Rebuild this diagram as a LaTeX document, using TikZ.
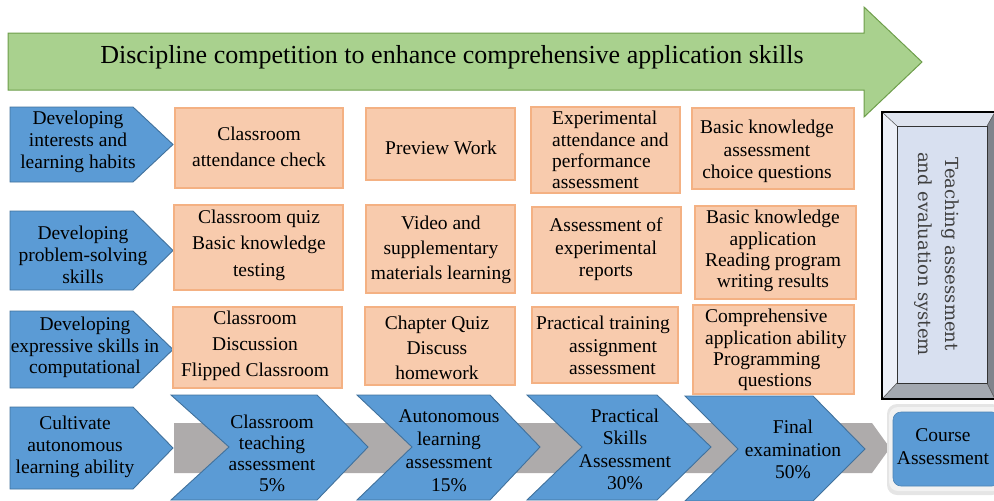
\documentclass[tikz,border=0pt]{standalone}
\usepackage{fontspec}
\setmainfont{Liberation Serif}
\newfontfamily\slabfont{DejaVu Serif}
\definecolor{bluefill}{HTML}{5B9BD5}
\definecolor{blueline}{HTML}{41719C}
\definecolor{orfill}{HTML}{F8CBAD}
\definecolor{orline}{HTML}{F4B183}
\definecolor{grfill}{HTML}{A9D18E}
\definecolor{grline}{HTML}{6E9E4B}
\definecolor{bandgray}{HTML}{AEABAB}
\definecolor{bvface}{HTML}{D8E0F0}
\definecolor{bvleft}{HTML}{EDF0F8}
\definecolor{bvtop}{HTML}{DEE3EE}
\definecolor{bvright}{HTML}{80848C}
\definecolor{bvbottom}{HTML}{A3A8B0}
\definecolor{vtext}{HTML}{404040}
\tikzset{
  bluebox/.style={fill=bluefill,draw=blueline,line width=0.9pt,line join=miter},
  orbox/.style={fill=orfill,draw=orline,line width=1.2pt},
  lbl/.style={inner sep=0pt,align=center,text=black},
  txt/.style={font=\fontsize{19.5}{#1}\selectfont},
  txt/.default=22
}
\begin{document}
\begin{tikzpicture}[x=1pt,y=-1pt]
\useasboundingbox (0,0) rectangle (994,501);

% top green block arrow
\draw[fill=grfill,draw=grline,line width=1pt,line join=miter]
  (8,33) -- (864,33) -- (864,7) -- (922,62) -- (864,117) -- (864,90) -- (8,90) -- cycle;
\node[lbl,font=\fontsize{26}{30}\selectfont] (title) at (452,57)
  {Discipline competition to enhance comprehensive application skills};

% left pentagon arrows
\draw[bluebox] (10,107) -- (133,107) -- (173,144.5) -- (133,182) -- (10,182) -- cycle;
\draw[bluebox] (10,211) -- (133,211) -- (173,250.5) -- (133,290) -- (10,290) -- cycle;
\draw[bluebox] (10,311) -- (133,311) -- (173,349.5) -- (133,388) -- (10,388) -- cycle;
\draw[bluebox] (10,407) -- (133,407) -- (173,448) -- (133,489) -- (10,489) -- cycle;
\node[lbl,txt=22] (g1) at (78,142) {Developing\\interests and\\learning habits};
\node[lbl,txt=22] (g2) at (83,255) {Developing\\problem-solving\\skills};
\node[lbl,txt=21.5] (g3) at (85,347.5) {Developing\\expressive skills in\\computational};
\node[lbl,txt=22] (g4) at (75,447) {Cultivate\\autonomous\\learning ability};

% orange boxes, row 1
\draw[orbox] (175,108) rectangle (343,188);
\draw[orbox] (366,108) rectangle (515,180);
\draw[orbox] (531,107) rectangle (680,193);
\draw[orbox] (692,108) rectangle (854,189);
\node[lbl,txt=26] (a11) at (259,147) {Classroom\\attendance check};
\node[lbl,txt=22] (a12) at (441,148) {Preview Work};
\node[lbl,txt=21.3,align=left,anchor=west] (a13) at (552,150) {Experimental\\attendance and\\performance\\assessment};
\node[lbl,txt=22.5] (a14) at (767,151.5) {Basic knowledge\\assessment\\choice questions};

% orange boxes, row 2
\draw[orbox] (174,205) rectangle (343,290);
\draw[orbox] (366,205) rectangle (515,293);
\draw[orbox] (532,207) rectangle (681,293);
\draw[orbox] (695,206) rectangle (856,299);
\node[lbl,txt=26.5] (a21) at (259,245) {Classroom quiz\\Basic knowledge\\testing};
\node[lbl,txt=25] (a22) at (441,250) {Video and\\supplementary\\materials learning};
\node[lbl,txt=22.5] (a23) at (606,249.5) {Assessment of\\experimental\\reports};
\node[lbl,txt=21.3] (a24) at (773,251) {Basic knowledge\\application\\Reading program\\writing results};

% orange boxes, row 3
\draw[orbox] (173,307) rectangle (342,388);
\draw[orbox] (365,307) rectangle (515,385);
\draw[orbox] (532,307) rectangle (678,383);
\draw[orbox] (693,305) rectangle (854,394);
\node[lbl,txt=26] (a31) at (255,346) {Classroom\\Discussion\\Flipped Classroom};
\node[lbl,txt=25] (a32) at (437,348) {Chapter Quiz\\Discuss\\homework};
\node[lbl,txt=22.5,align=left,anchor=west] (a33) at (536,345.5)
  {Practical training\\\hspace*{33pt}assignment\\\hspace*{33pt}assessment};
\node[lbl,txt=21.3,align=left,anchor=west] (a34) at (705,350)
  {Comprehensive\\application ability\\\hspace*{8pt}Programming\\\hspace*{33pt}questions};

% grey band behind the chevrons
\fill[bandgray] (174,423) -- (872,423) -- (890,448) -- (872,473) -- (174,473) -- cycle;

% chevrons
\draw[bluebox] (171,395) -- (317,395) -- (368,447) -- (317,500) -- (171,500) -- (229,447) -- cycle;
\draw[bluebox] (357,395) -- (490,395) -- (540,447) -- (490,500) -- (357,500) -- (412,447) -- cycle;
\draw[bluebox] (527,395) -- (657,395) -- (711,447) -- (657,500) -- (527,500) -- (582,447) -- cycle;
\draw[bluebox] (685,396) -- (813,396) -- (865,449) -- (813,501) -- (685,501) -- (738,449) -- cycle;
\node[lbl,txt=21] (c1) at (272,453) {Classroom\\teaching\\assessment\\5\%};
\node[lbl,txt=23] (c2) at (449,451) {Autonomous\\learning\\assessment\\15\%};
\node[lbl,txt=22.3] (c3) at (625,449.5) {Practical\\Skills\\Assessment\\30\%};
\node[lbl,txt=22.5] (c4) at (793,449.5) {Final\\examination\\50\%};

% course assessment box with soft halo
\fill[black!10,rounded corners=10pt] (887,404) rectangle (1002,495);
\fill[black!5,rounded corners=9pt] (889,407) rectangle (1002,491);
\draw[fill=bluefill,draw=bluefill!85!black,line width=0.6pt,rounded corners=8pt] (893,412) rectangle (1000,486);
\node[lbl,txt=23] (course) at (943,446.5) {Course\\Assessment};

% bevelled box on the right
\fill[bvtop] (882,112) -- (995,112) -- (987,126) -- (897,126) -- cycle;
\fill[bvleft] (882,112) -- (897,126) -- (897,383) -- (882,399) -- cycle;
\fill[bvright] (995,112) -- (995,399) -- (987,383) -- (987,126) -- cycle;
\fill[bvbottom] (882,399) -- (995,399) -- (987,383) -- (897,383) -- cycle;
\draw[fill=bvface,draw=black!80,line width=0.6pt] (897,126) rectangle (987,383);
\draw[black!70,line width=0.5pt] (882,112) -- (897,126) (995,112) -- (987,126)
  (882,399) -- (897,383) (995,399) -- (987,383);
\draw[black,line width=1.2pt] (882,112) rectangle (995,399);
\node[lbl,rotate=-90,text=vtext,font=\slabfont\fontsize{18}{27}\selectfont] (tas) at (937,254)
  {Teaching assessment\\and evaluation system};
\end{tikzpicture}
\end{document}
